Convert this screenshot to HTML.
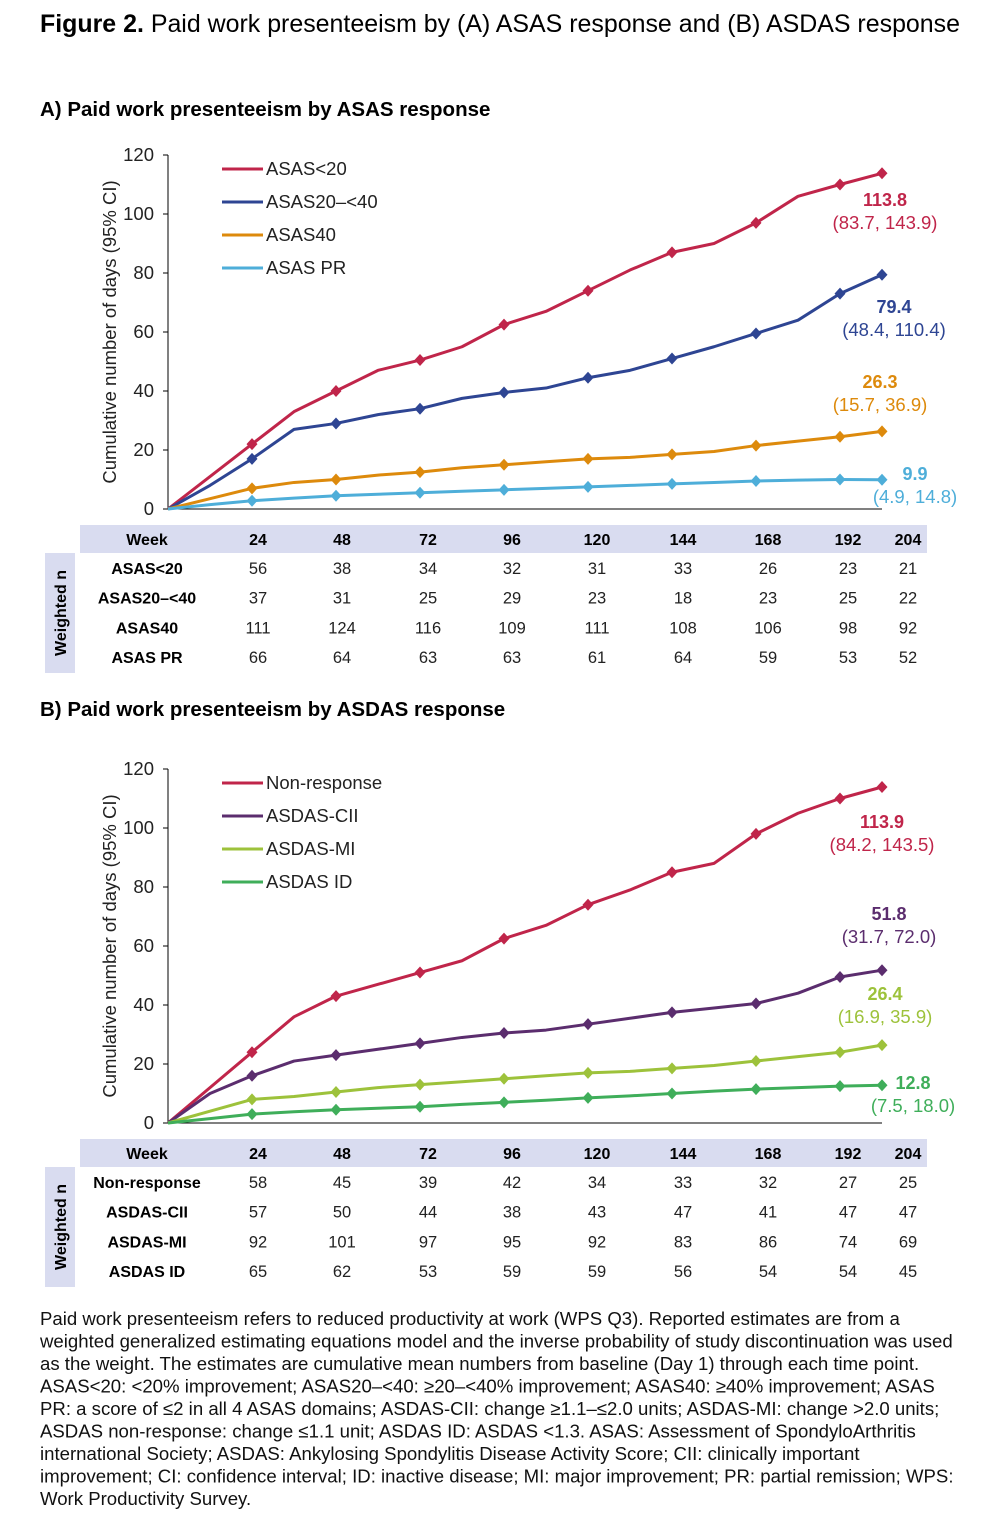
<!DOCTYPE html>
<html><head><meta charset="utf-8"><style>
body{margin:0;background:#fff;font-family:"Liberation Sans",Arial,sans-serif;}
svg text{font-family:"Liberation Sans",Arial,sans-serif;}
</style></head><body>
<svg id="s" width="989" height="1521" xmlns="http://www.w3.org/2000/svg">
<text x="40" y="32" font-size="24.6" textLength="920" lengthAdjust="spacingAndGlyphs"><tspan font-weight="bold">Figure 2.</tspan> Paid work presenteeism by (A) ASAS response and (B) ASDAS response</text>
<text x="40" y="116" font-size="20.5" font-weight="bold">A) Paid work presenteeism by ASAS response</text>
<text x="40" y="716" font-size="20.5" font-weight="bold">B) Paid work presenteeism by ASDAS response</text>
<g id="gA"></g>
<g id="gB"></g>
<text font-size="18.6" fill="#111">
<tspan x="40" y="1325">Paid work presenteeism refers to reduced productivity at work (WPS Q3). Reported estimates are from a</tspan>
<tspan x="40" y="1347.5">weighted generalized estimating equations model and the inverse probability of study discontinuation was used</tspan>
<tspan x="40" y="1370">as the weight. The estimates are cumulative mean numbers from baseline (Day 1) through each time point.</tspan>
<tspan x="40" y="1392.5">ASAS&lt;20: &lt;20% improvement; ASAS20–&lt;40: ≥20–&lt;40% improvement; ASAS40: ≥40% improvement; ASAS</tspan>
<tspan x="40" y="1415">PR: a score of ≤2 in all 4 ASAS domains; ASDAS-CII: change ≥1.1–≤2.0 units; ASDAS-MI: change &gt;2.0 units;</tspan>
<tspan x="40" y="1437.5">ASDAS non-response: change ≤1.1 unit; ASDAS ID: ASDAS &lt;1.3. ASAS: Assessment of SpondyloArthritis</tspan>
<tspan x="40" y="1460">international Society; ASDAS: Ankylosing Spondylitis Disease Activity Score; CII: clinically important</tspan>
<tspan x="40" y="1482.5">improvement; CI: confidence interval; ID: inactive disease; MI: major improvement; PR: partial remission; WPS:</tspan>
<tspan x="40" y="1505">Work Productivity Survey.</tspan>
</text>
</svg>
<script>
const weeks=[0,12,24,36,48,60,72,84,96,108,120,132,144,156,168,180,192,204];
const markerWeeks=[24,48,72,96,120,144,168,192,204];
const yTicks=[0,20,40,60,80,100,120];
const tableWeeks=["24","48","72","96","120","144","168","192","204"];
// Panel A
const aNames=["ASAS<20","ASAS20–<40","ASAS40","ASAS PR"];
const aColors=["#c0254a","#2e4593","#dd8a0c","#4eaed9"];
const aS1=[0,11,22,33,40,47,50.5,55,62.5,67,74,81,87,90,97,106,110,113.8];
const aS2=[0,8,17,27,29,32,34,37.5,39.5,41,44.5,47,51,55,59.5,64,73,79.4];
const aS3=[0,3.5,7,9,10,11.5,12.5,14,15,16,17,17.5,18.5,19.5,21.5,23,24.5,26.3];
const aS4=[0,1.5,2.8,3.7,4.5,5,5.5,6,6.5,7,7.5,8,8.5,9,9.5,9.8,10,9.9];
const aEnd=["113.8","79.4","26.3","9.9"];
const aCI=["(83.7, 143.9)","(48.4, 110.4)","(15.7, 36.9)","(4.9, 14.8)"];
const aN=[[56,38,34,32,31,33,26,23,21],[37,31,25,29,23,18,23,25,22],[111,124,116,109,111,108,106,98,92],[66,64,63,63,61,64,59,53,52]];
// Panel B
const bNames=["Non-response","ASDAS-CII","ASDAS-MI","ASDAS ID"];
const bColors=["#c0254a","#5b2d6e","#9dc23b","#3fae5a"];
const bS1=[0,12,24,36,43,47,51,55,62.5,67,74,79,85,88,98,105,110,113.9];
const bS2=[0,10,16,21,23,25,27,29,30.5,31.5,33.5,35.5,37.5,39,40.5,44,49.5,51.8];
const bS3=[0,4,8,9,10.5,12,13,14,15,16,17,17.5,18.5,19.5,21,22.5,24,26.4];
const bS4=[0,1.5,3,3.8,4.5,5,5.5,6.3,7,7.7,8.5,9.2,10,10.8,11.5,12,12.5,12.8];
const bEnd=["113.9","51.8","26.4","12.8"];
const bCI=["(84.2, 143.5)","(31.7, 72.0)","(16.9, 35.9)","(7.5, 18.0)"];
const bN=[[58,45,39,42,34,33,32,27,25],[57,50,44,38,43,47,41,47,47],[92,101,97,95,92,83,86,74,69],[65,62,53,59,59,56,54,54,45]];

const NS="http://www.w3.org/2000/svg";
function mk(p,t,a,txt){const e=document.createElementNS(NS,t);for(const k in a)e.setAttribute(k,a[k]);if(txt!==undefined)e.textContent=txt;p.appendChild(e);return e;}
function draw(g,top,series,names,colors,ends,cis,labelPos,nData){
  const y0=top+354, y1=top, x0=168;
  const xs=w=>x0+w*3.5, ys=v=>y0-(y0-y1)*v/120;
  const ax=mk(g,'path',{d:`M${x0},${y1} V${y0} H${xs(204)}`,stroke:'#000','stroke-width':1,fill:'none'});
  
  
  yTicks.forEach(t=>{
    const l=mk(g,'line',{x1:x0-5,x2:x0,y1:ys(t),y2:ys(t),stroke:'#000'});
    
    
    const tx=mk(g,'text',{x:154,y:ys(t)+6,'text-anchor':'end','font-size':18.5,fill:'#222'},t);
    
    
  });
  const yt=mk(g,'text',{transform:`translate(116,${(y0+y1)/2}) rotate(-90)`,'text-anchor':'middle','font-size':18.5,fill:'#222'},'Cumulative number of days (95% CI)');
  
  
  series.forEach((s,i)=>{
    const pl=mk(g,'polyline',{points:weeks.map((w,j)=>xs(w)+','+ys(s[j])).join(' '),fill:'none',stroke:colors[i],'stroke-width':3,'stroke-linejoin':'round'});
    
    
    markerWeeks.forEach(w=>{
      const j=weeks.indexOf(w),cx=xs(w),cy=ys(s[j]);
      const m=mk(g,'path',{d:`M${cx},${cy-6} L${cx+5.5},${cy} L${cx},${cy+6} L${cx-5.5},${cy} Z`,fill:colors[i]});
      
      
    });
    const ly=top+14+i*33;
    const ll=mk(g,'line',{x1:222,x2:263,y1:ly,y2:ly,stroke:colors[i],'stroke-width':3});
    
    
    const lt=mk(g,'text',{x:266,y:ly+6,'font-size':18.5,fill:'#222'},names[i]);
    
    
    const [lx,lyy]=labelPos[i];
    const e1=mk(g,'text',{x:lx,y:lyy,'text-anchor':'middle','font-size':18,'font-weight':'bold',fill:colors[i]},ends[i]);
    
    
    const e2=mk(g,'text',{x:lx,y:lyy+23,'text-anchor':'middle','font-size':18.5,fill:colors[i]},cis[i]);
    
    
  });
  const tt=y0+16;
  const hb=mk(g,'rect',{x:80,y:tt,width:847,height:28,fill:'#d9dcf0'});
  
  
  const vb=mk(g,'rect',{x:45,y:tt+28,width:30,height:120,fill:'#d9dcf0'});
  
  
  const vt=mk(g,'text',{transform:`translate(66,${tt+88}) rotate(-90)`,'text-anchor':'middle','font-size':16,'font-weight':'bold'},'Weighted n');
  
  
  const colX=[258,342,428,512,597,683,768,848,908];
  const wk=mk(g,'text',{x:147,y:tt+20,'text-anchor':'middle','font-size':16,'font-weight':'bold'},'Week');
  
  
  tableWeeks.forEach((w,k)=>{
    const t=mk(g,'text',{x:colX[k],y:tt+20,'text-anchor':'middle','font-size':16,'font-weight':'bold'},w);
    
    
  });
  nData.forEach((row,r)=>{
    const ry=tt+49+r*29.7;
    const rn=mk(g,'text',{x:147,y:ry,'text-anchor':'middle','font-size':16,'font-weight':'bold'},names[r]);
    
    
    row.forEach((v,k)=>{
      const c=mk(g,'text',{x:colX[k],y:ry,'text-anchor':'middle','font-size':16.5,fill:'#222'},v);
      
      
    });
  });
}
draw(document.getElementById('gA'),155,[aS1,aS2,aS3,aS4],aNames,aColors,aEnd,aCI,[[885,206],[894,313],[880,388],[915,480]],aN);
draw(document.getElementById('gB'),769,[bS1,bS2,bS3,bS4],bNames,bColors,bEnd,bCI,[[882,828],[889,920],[885,1000],[913,1089]],bN);
</script>
</body></html>
